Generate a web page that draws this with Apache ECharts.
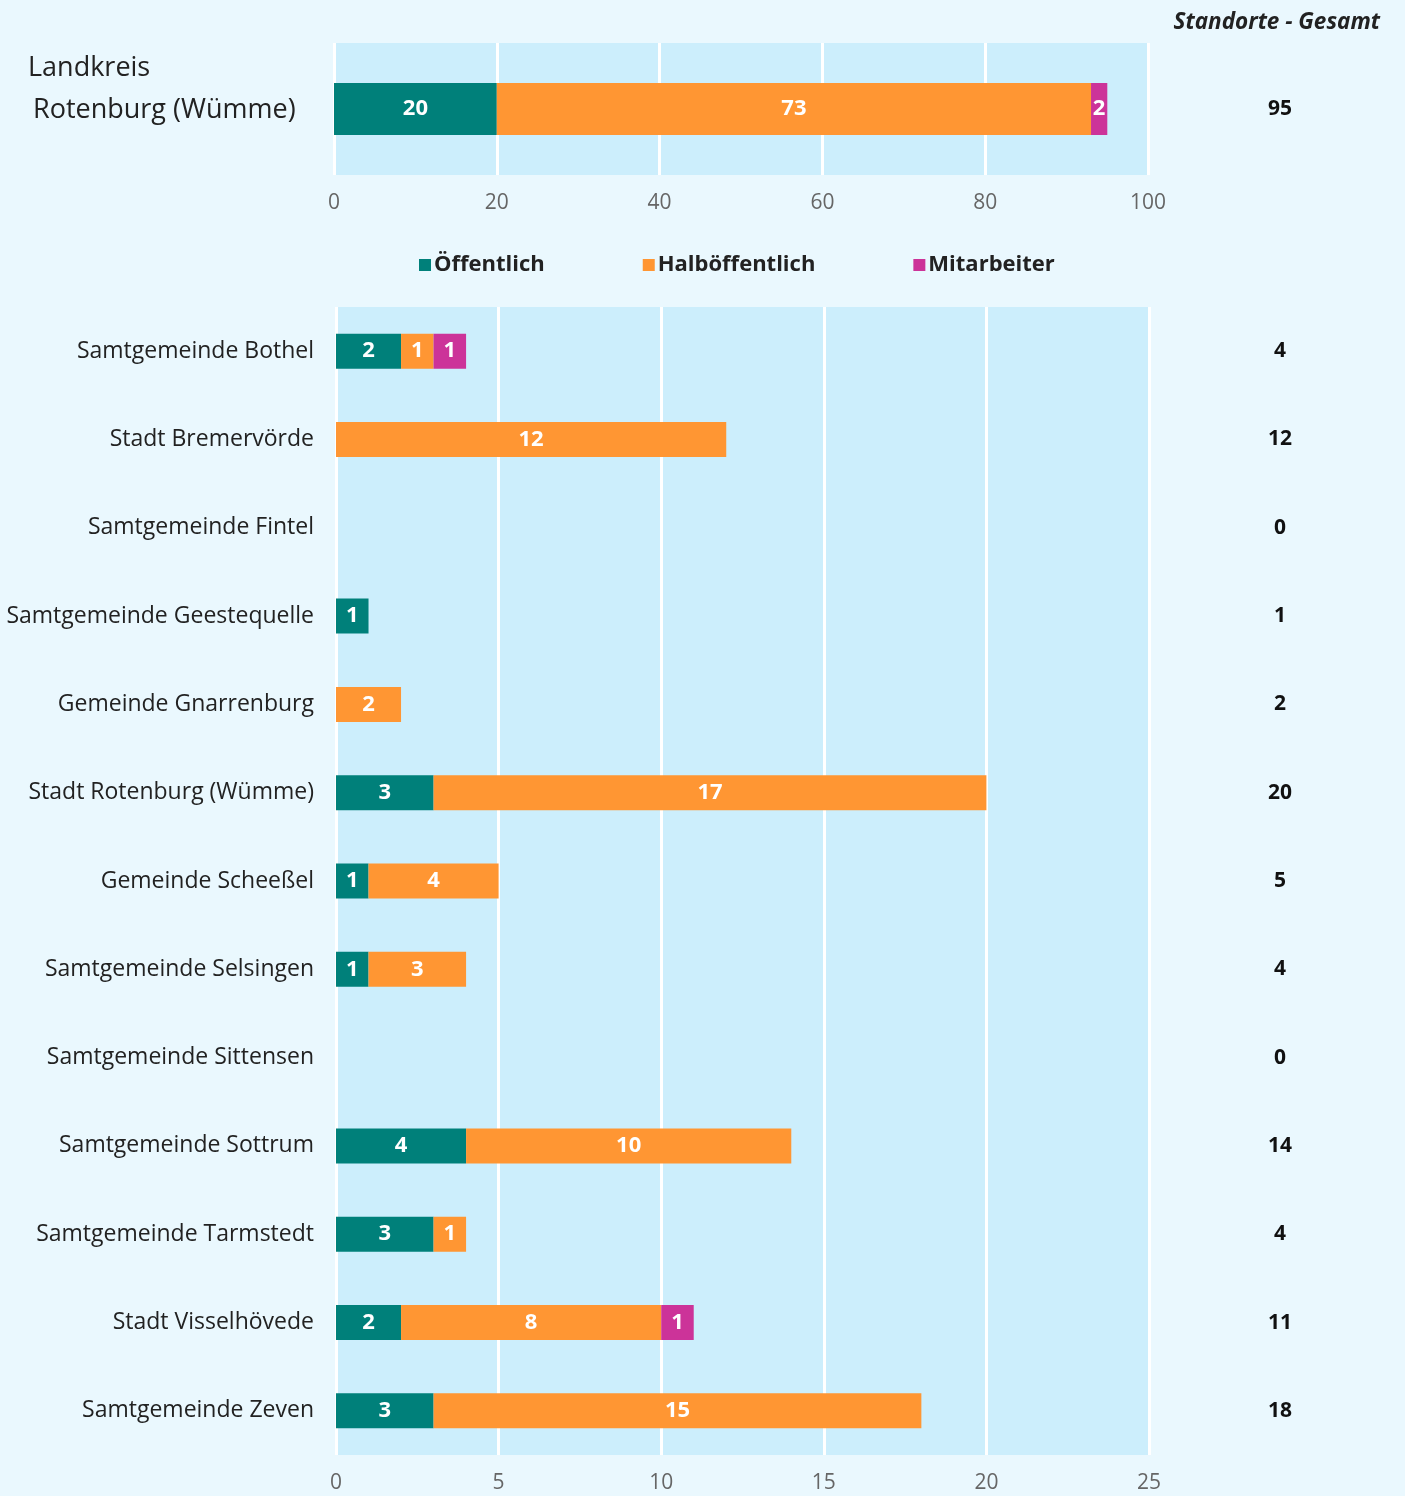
<!DOCTYPE html>
<html>
<head>
<meta charset="utf-8">
<script src="https://cdn.jsdelivr.net/npm/echarts@6/dist/echarts.min.js"></script>
<style>
  html, body { margin: 0; padding: 0; background: #EAF8FE; }
  #chart { width: 1405px; height: 1496px; }
</style>
</head>
<body>
<div id="chart"></div>
<script>
// District overview (single stacked bar)
const kreisName = ['Landkreis', 'Rotenburg (Wümme)'];
const kreisOeffentlich = [20];
const kreisHalboeffentlich = [73];
const kreisMitarbeiter = [2];
const kreisTicks = [0, 20, 40, 60, 80, 100];

// Municipalities (stacked bars)
const gemeinden = [
  'Samtgemeinde Bothel', 'Stadt Bremervörde', 'Samtgemeinde Fintel',
  'Samtgemeinde Geestequelle', 'Gemeinde Gnarrenburg', 'Stadt Rotenburg (Wümme)',
  'Gemeinde Scheeßel', 'Samtgemeinde Selsingen', 'Samtgemeinde Sittensen',
  'Samtgemeinde Sottrum', 'Samtgemeinde Tarmstedt', 'Stadt Visselhövede',
  'Samtgemeinde Zeven'
];
const oeffentlich =    [2, 0, 0, 1, 0, 3, 1, 1, 0, 4, 3, 2, 3];
const halboeffentlich = [1, 12, 0, 0, 2, 17, 4, 3, 0, 10, 1, 8, 15];
const mitarbeiter =    [1, 0, 0, 0, 0, 0, 0, 0, 0, 0, 0, 1, 0];
const gemeindeTicks = [0, 5, 10, 15, 20, 25];

const seriesNames = ['Öffentlich', 'Halböffentlich', 'Mitarbeiter'];
const colors = ['#00807A', '#FF9633', '#CC3399'];

const kreisTotal = kreisOeffentlich[0] + kreisHalboeffentlich[0] + kreisMitarbeiter[0];
const gemeindeTotals = gemeinden.map((_, i) => oeffentlich[i] + halboeffentlich[i] + mitarbeiter[i]);

const FONT = '"Open Sans", "Noto Sans", sans-serif';

const barLabel = {
  show: true,
  position: 'inside',
  color: '#fff',
  fontFamily: FONT,
  fontWeight: 'bold',
  fontSize: 22,
  formatter: p => (p.value ? String(p.value) : '')
};

function valueAxis(gridIndex, ticks) {
  return {
    type: 'value',
    gridIndex: gridIndex,
    min: ticks[0],
    max: ticks[ticks.length - 1],
    interval: ticks[1] - ticks[0],
    axisLine: { show: false },
    axisTick: { show: false },
    axisLabel: { color: '#666', fontFamily: FONT, fontSize: 21, margin: 18 },
    splitLine: { show: true, lineStyle: { color: '#ffffff', width: 3 } }
  };
}

const chart = echarts.init(document.getElementById('chart'), null, { renderer: 'canvas' });

const option = {
  backgroundColor: '#EAF8FE',
  animation: false,
  color: colors,
  title: {
    text: 'Standorte - Gesamt',
    right: 20,
    top: 6,
    textStyle: { fontFamily: FONT, fontStyle: 'italic', fontWeight: 'bold', fontSize: 22.5, color: '#222' }
  },
  legend: {
    data: seriesNames,
    left: 414,
    top: 249,
    itemGap: 98,
    itemWidth: 12,
    itemHeight: 12,
    icon: 'rect',
    textStyle: { fontFamily: FONT, fontWeight: 'bold', fontSize: 22, color: '#222', padding: [0, 0, 0, -2] }
  },
  grid: [
    { left: 334, right: 1405 - 1148, top: 43, height: 132, show: true, backgroundColor: '#CCEEFC', borderWidth: 0 },
    { left: 336, right: 1405 - 1149, top: 307, height: 1148, show: true, backgroundColor: '#CCEEFC', borderWidth: 0 }
  ],
  xAxis: [valueAxis(0, kreisTicks), valueAxis(1, gemeindeTicks)],
  yAxis: [
    {
      type: 'category',
      gridIndex: 0,
      data: [kreisName.join(' ')],
      axisLine: { show: false },
      axisTick: { show: false },
      axisLabel: {
        margin: 301,
        align: 'left',
        padding: [0, 0, 40, 0],
        formatter: () => '{a|' + kreisName[0] + '}\n{b|' + kreisName[1] + '}',
        rich: {
          a: { fontFamily: FONT, fontSize: 27, color: '#222', lineHeight: 42, padding: [0, 0, 0, -5] },
          b: { fontFamily: FONT, fontSize: 27, color: '#222', lineHeight: 42 }
        }
      }
    },
    {
      type: 'category',
      gridIndex: 0,
      position: 'right',
      data: [kreisName.join(' ')],
      axisLine: { show: false },
      axisTick: { show: false },
      axisLabel: {
        margin: 132,
        align: 'center',
        padding: [4, 0, 0, 0],
        fontFamily: FONT, fontWeight: 'bold', fontSize: 21, color: '#111',
        formatter: () => String(kreisTotal)
      }
    },
    {
      type: 'category',
      gridIndex: 1,
      inverse: true,
      data: gemeinden,
      axisLine: { show: false },
      axisTick: { show: false },
      axisLabel: { margin: 22, fontFamily: FONT, fontSize: 23, color: '#222' }
    },
    {
      type: 'category',
      gridIndex: 1,
      position: 'right',
      inverse: true,
      data: gemeinden,
      axisLine: { show: false },
      axisTick: { show: false },
      axisLabel: {
        margin: 131,
        align: 'center',
        fontFamily: FONT, fontWeight: 'bold', fontSize: 21, color: '#111',
        formatter: (v, i) => String(gemeindeTotals[i])
      }
    }
  ],
  series: [
    { name: seriesNames[0], type: 'bar', stack: 'kreis', xAxisIndex: 0, yAxisIndex: 0, barWidth: 52, data: kreisOeffentlich, label: barLabel },
    { name: seriesNames[1], type: 'bar', stack: 'kreis', xAxisIndex: 0, yAxisIndex: 0, barWidth: 52, data: kreisHalboeffentlich, label: barLabel },
    { name: seriesNames[2], type: 'bar', stack: 'kreis', xAxisIndex: 0, yAxisIndex: 0, barWidth: 52, data: kreisMitarbeiter, label: barLabel },
    { name: seriesNames[0], type: 'bar', stack: 'gem', xAxisIndex: 1, yAxisIndex: 2, barWidth: 35, data: oeffentlich, label: barLabel },
    { name: seriesNames[1], type: 'bar', stack: 'gem', xAxisIndex: 1, yAxisIndex: 2, barWidth: 35, data: halboeffentlich, label: barLabel },
    { name: seriesNames[2], type: 'bar', stack: 'gem', xAxisIndex: 1, yAxisIndex: 2, barWidth: 35, data: mitarbeiter, label: barLabel }
  ]
};

chart.setOption(option);
</script>
</body>
</html>
